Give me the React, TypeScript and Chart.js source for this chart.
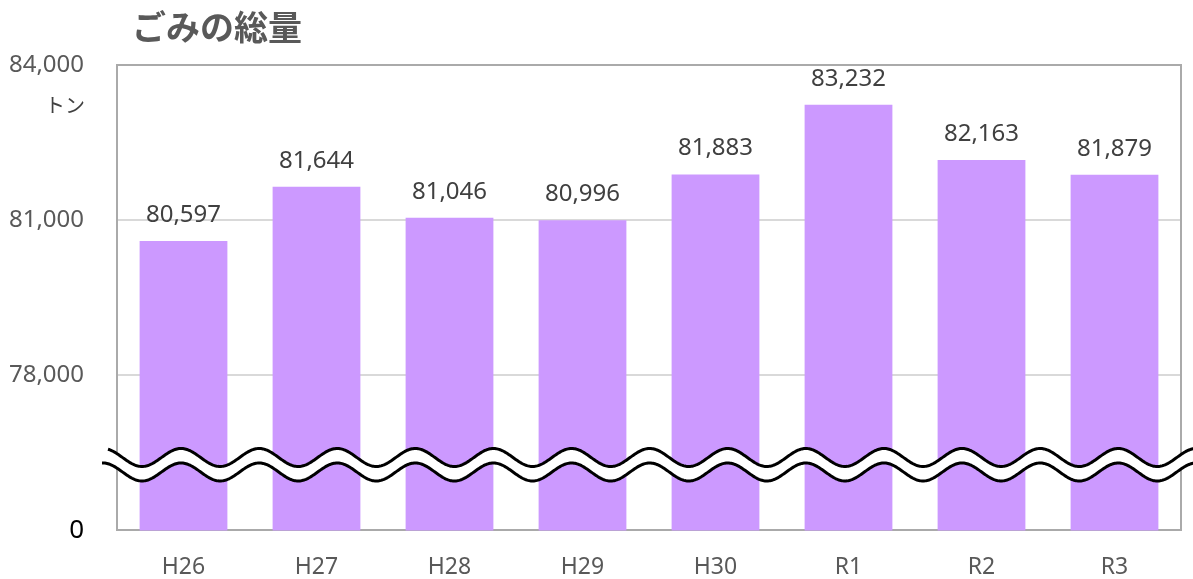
import React, { useEffect, useRef } from "react";
import { Chart, registerables } from "chart.js";

Chart.register(...registerables);

const categories = ["H26", "H27", "H28", "H29", "H30", "R1", "R2", "R3"];
const totals = [80597, 81644, 81046, 80996, 81883, 83232, 82163, 81879];
const yTicks = [75000, 78000, 81000, 84000];
const yTickLabels = ["0", "78,000", "81,000", "84,000"];
const titleText = "ごみの総量";
const unitText = "トン";
const breakValue = 76410;

const FONT = "'Noto Sans', 'Noto Sans CJK JP', sans-serif";

export default function App() {
  const ref = useRef<HTMLCanvasElement | null>(null);

  useEffect(() => {
    document.body.style.margin = "0";
    const canvas = ref.current;
    if (!canvas) return;

    const decorPlugin = {
      id: "decor",
      beforeDatasetsDraw(chart: any) {
        const { ctx, chartArea } = chart;
        ctx.save();
        ctx.strokeStyle = "#aaaaaa";
        ctx.lineWidth = 2;
        ctx.beginPath();
        ctx.moveTo(chartArea.right, chartArea.top - 1);
        ctx.lineTo(chartArea.right, chartArea.bottom);
        ctx.stroke();
        ctx.restore();
      },
      afterDatasetsDraw(chart: any) {
        const { ctx, chartArea, scales } = chart;
        const y = scales.y;
        // wavy break
        const cy = y.getPixelForValue(breakValue);
        const amp = 9;
        const gap = 14.5;
        const period = 78.1;
        const phase = chartArea.left + 25;
        const x0u = chartArea.left - 9;
        const x0l = chartArea.left - 15;
        const x1 = chart.width + 2;
        const f = (x: number) => cy + amp * Math.cos((2 * Math.PI * (x - phase)) / period);
        ctx.save();
        ctx.beginPath();
        for (let x = x0u; x <= x1; x += 1) {
          if (x === x0u) ctx.moveTo(x, f(x));
          else ctx.lineTo(x, f(x));
        }
        for (let x = x1; x >= x0l; x -= 1) ctx.lineTo(x, f(x) + gap);
        ctx.closePath();
        ctx.fillStyle = "#ffffff";
        ctx.fill();
        ctx.strokeStyle = "#000000";
        ctx.lineWidth = 3;
        ctx.beginPath();
        for (let x = x0u; x <= x1; x += 1) {
          if (x === x0u) ctx.moveTo(x, f(x));
          else ctx.lineTo(x, f(x));
        }
        ctx.stroke();
        ctx.beginPath();
        for (let x = x0l; x <= x1; x += 1) {
          if (x === x0l) ctx.moveTo(x, f(x) + gap);
          else ctx.lineTo(x, f(x) + gap);
        }
        ctx.stroke();

        // data labels
        const meta = chart.getDatasetMeta(0);
        ctx.fillStyle = "#404040";
        ctx.font = `24px ${FONT}`;
        ctx.textAlign = "center";
        ctx.textBaseline = "middle";
        meta.data.forEach((bar: any, i: number) => {
          ctx.fillText(totals[i].toLocaleString("en-US"), bar.x, bar.y - 26);
        });

        // title and unit
        ctx.fillStyle = "#595959";
        ctx.font = `bold 34px ${FONT}`;
        ctx.textAlign = "left";
        ctx.fillText(titleText, chartArea.left + 15, 30);
        ctx.fillStyle = "#404040";
        ctx.font = `20px ${FONT}`;
        ctx.textAlign = "right";
        ctx.fillText(unitText, chartArea.left - 32, 107);
        ctx.restore();
      },
    };

    const chart = new Chart(canvas, {
      type: "bar",
      data: {
        labels: categories,
        datasets: [
          {
            data: totals,
            backgroundColor: "#cc99ff",
            borderWidth: 0,
            barPercentage: 0.66,
            categoryPercentage: 1,
          },
        ],
      },
      options: {
        responsive: false,
        animation: false,
        devicePixelRatio: 1,
        layout: { padding: { top: 65, right: 12, left: 0, bottom: 0 } },
        plugins: {
          legend: { display: false },
          title: { display: false },
          tooltip: { enabled: false },
        },
        scales: {
          x: {
            grid: { display: false, drawTicks: false },
            border: { color: "#aaaaaa", width: 2 },
            ticks: {
              color: "#595959",
              font: { family: FONT, size: 23 },
              padding: 23,
            },
            afterFit: (scale: any) => {
              scale.height = 48;
            },
          },
          y: {
            min: 75000,
            max: 84000,
            afterBuildTicks: (scale: any) => {
              scale.ticks = yTicks.map((v) => ({ value: v }));
            },
            grid: {
              drawTicks: false,
              lineWidth: 2,
              color: (c: any) =>
                c.tick && c.tick.value === 84000
                  ? "#aaaaaa"
                  : c.tick && c.tick.value === 75000
                  ? "rgba(0,0,0,0)"
                  : "#d9d9d9",
            },
            border: { color: "#aaaaaa", width: 2 },
            ticks: {
              padding: 33,
              font: (c: any) => ({
                family: FONT,
                size: c.tick && c.tick.value === 75000 ? 26 : 24,
              }),
              color: (c: any) => (c.tick && c.tick.value === 75000 ? "#000000" : "#595959"),
              callback: (v: any) => {
                const i = yTicks.indexOf(Number(v));
                return i >= 0 ? yTickLabels[i] : "";
              },
            },
            afterFit: (scale: any) => {
              scale.width = 117;
            },
          },
        },
      },
      plugins: [decorPlugin],
    });

    return () => chart.destroy();
  }, []);

  return (
    <div style={{ position: "fixed", left: 0, top: 0, width: 1193, height: 579 }}>
      <canvas ref={ref} width={1193} height={579} style={{ display: "block" }} />
    </div>
  );
}
